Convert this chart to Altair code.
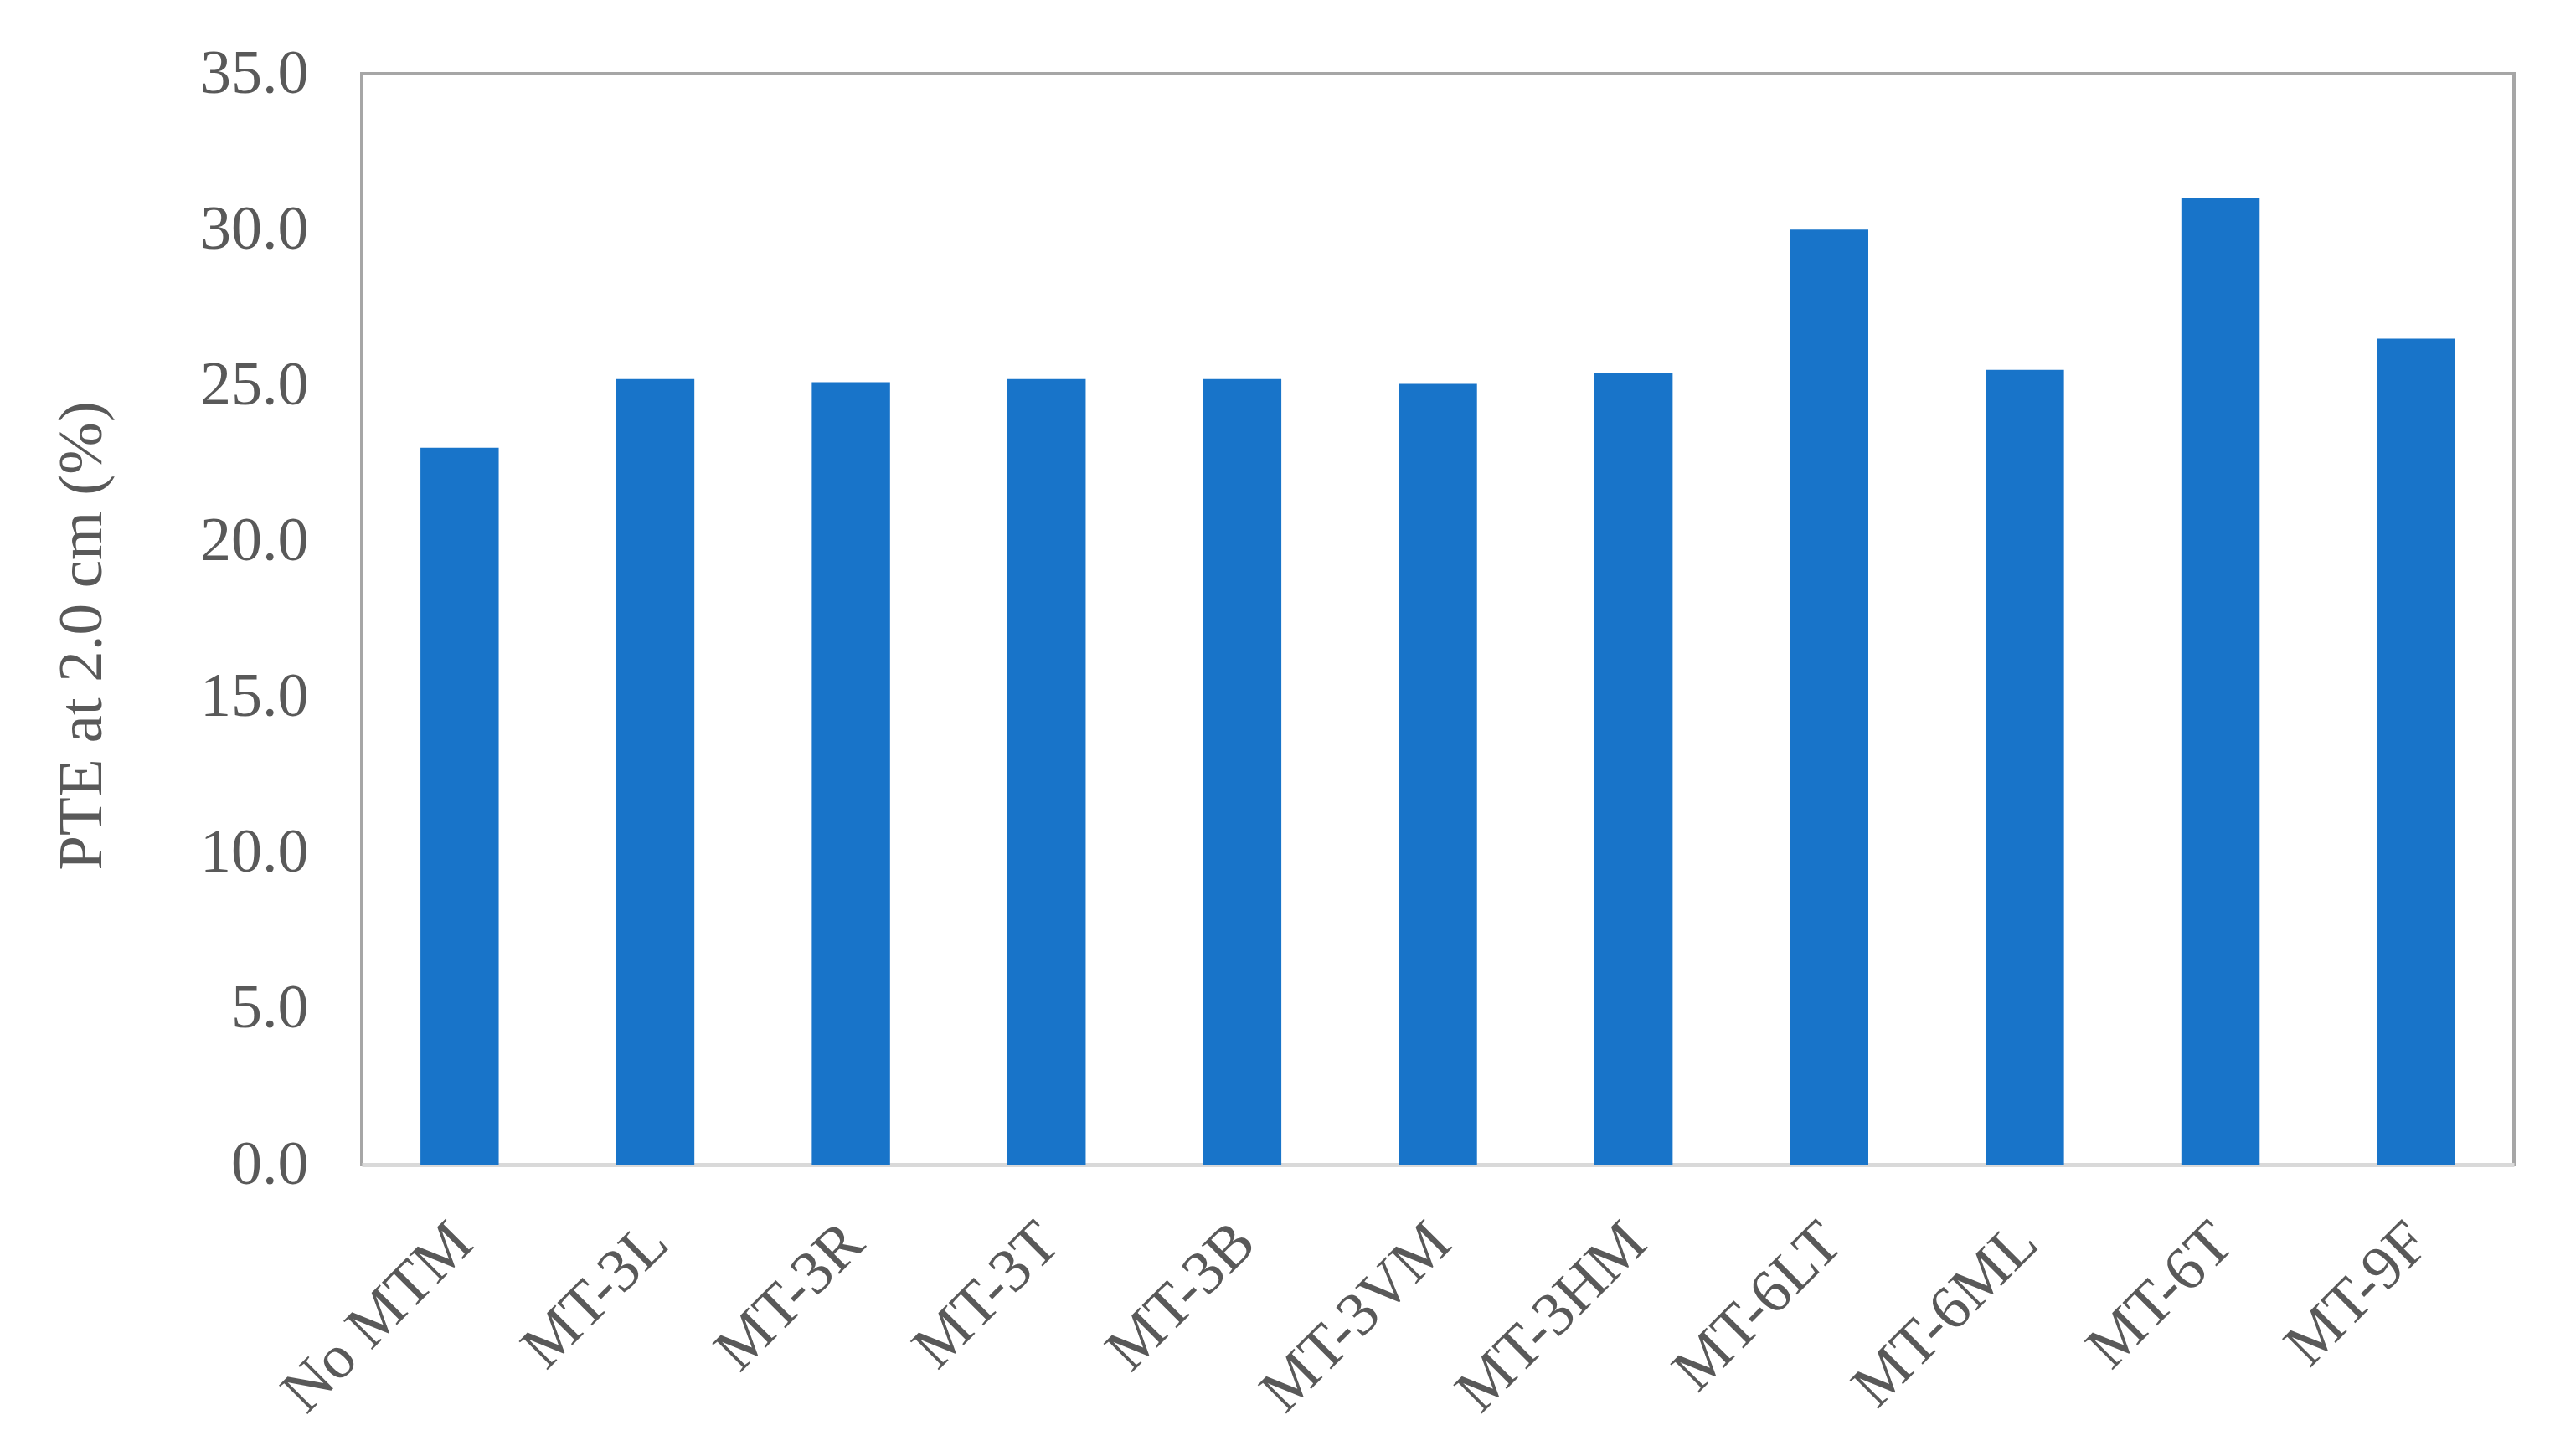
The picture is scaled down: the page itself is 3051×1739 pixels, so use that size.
import altair as alt
import pandas as pd

categories = ["No MTM", "MT-3L", "MT-3R", "MT-3T", "MT-3B", "MT-3VM",
              "MT-3HM", "MT-6LT", "MT-6ML", "MT-6T", "MT-9F"]
pte_values = [23.0, 25.2, 25.1, 25.2, 25.2, 25.05, 25.4, 30.0, 25.5, 31.0, 26.5]
y_ticks = [0, 5, 10, 15, 20, 25, 30, 35]

df = pd.DataFrame({"cat": categories, "val": pte_values})

FONT = "Liberation Serif"
GREY = "#595959"

chart = alt.Chart(df).mark_bar(color="#1874C9").encode(
    x=alt.X("cat:N", sort=categories,
            scale=alt.Scale(paddingInner=0.6, paddingOuter=0.3),
            axis=alt.Axis(title=None, labelAngle=-45, labelAlign="right",
                          labelBaseline="top", labelPadding=56, labelOffset=-22,
                          ticks=False, labelLimit=0, labelOverlap=False,
                          domainColor="#d9d9d9", domainWidth=5,
                          labelFont=FONT, labelFontSize=74, labelColor=GREY)),
    y=alt.Y("val:Q", scale=alt.Scale(domain=[0, 35], nice=False),
            axis=alt.Axis(title="PTE at 2.0 cm (%)", values=y_ticks, format=".1f",
                          grid=False, ticks=False, domain=False, labelPadding=64,
                          labelFont=FONT, labelFontSize=74, labelColor=GREY,
                          titleFont=FONT, titleFontSize=75, titleColor=GREY,
                          titleFontWeight="normal", titleX=-296, titleY=671,
                          titleAngle=-90, titleBaseline="bottom", titleAlign="center")),
).properties(
    width=2570, height=1303,
    autosize=alt.AutoSizeParams(type="none"),
    padding={"left": 424, "top": 80, "right": 41, "bottom": 340},
).configure_view(stroke="#a6a6a6", strokeWidth=4)

chart.save("out.html", embed_options={"renderer": "svg", "actions": False})
